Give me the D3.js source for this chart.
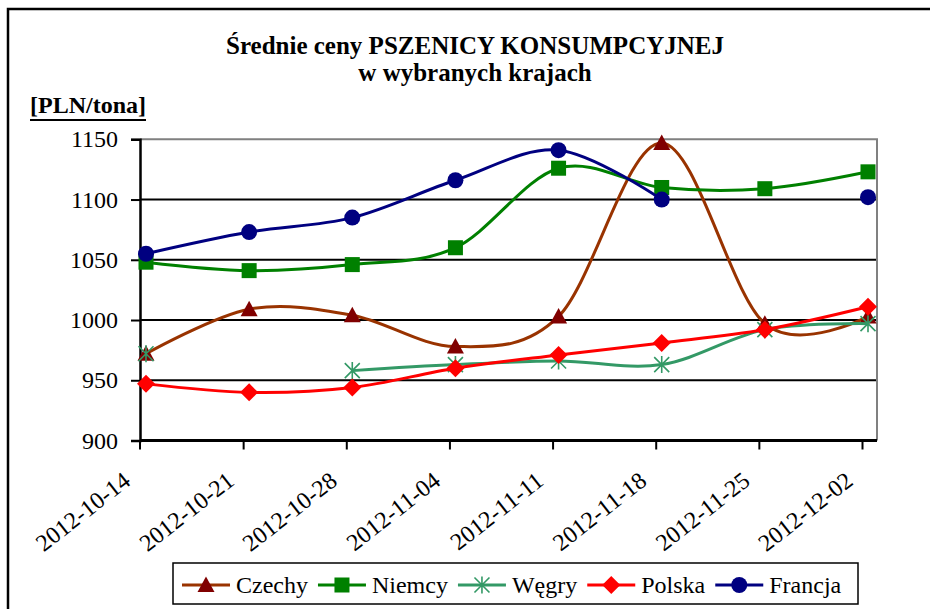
<!DOCTYPE html>
<html lang="pl">
<head>
<meta charset="UTF-8">
<title>Średnie ceny PSZENICY KONSUMPCYJNEJ</title>
<script src="https://cdn.jsdelivr.net/npm/d3@7"></script>
<style>
  body { margin: 0; background: #fff; }
  svg text { font-family: "Liberation Serif", "Times New Roman", serif; fill: #000; }
</style>
</head>
<body>
<script>
// data
var dates = ["2012-10-14", "2012-10-21", "2012-10-28", "2012-11-04",
             "2012-11-11", "2012-11-18", "2012-11-25", "2012-12-02"];
var czechy  = [972, 1009, 1004, 978, 1003, 1147, 997, 1003];
var niemcy  = [1048, 1041, 1046, 1060, 1126, 1110, 1109, 1123];
var wegry   = [972, null, 958, 963, 966, 963, 992, 997];
var polska  = [947, 940, 944, 960, 971, 981, 992, 1011];
var francja = [1055, 1073, 1085, 1116, 1141, 1100, null, 1102];
var yTicks = [900, 950, 1000, 1050, 1100, 1150];

var series = [
  { name: "Czechy",  values: czechy,  line: "#993300", mark: "#800000", shape: "triangle" },
  { name: "Niemcy",  values: niemcy,  line: "#008000", mark: "#008000", shape: "square" },
  { name: "Węgry",   values: wegry,   line: "#339966", mark: "#339966", shape: "star" },
  { name: "Polska",  values: polska,  line: "#FF0000", mark: "#FF0000", shape: "diamond" },
  { name: "Francja", values: francja, line: "#000080", mark: "#000080", shape: "circle" }
];

var w = 930, h = 609;
var pLeft = 140, pRight = 877, pTop = 139.3, pBottom = 440.5;
var serif = "'Liberation Serif', 'Times New Roman', serif";

var svg = d3.select("body").append("svg")
  .attr("width", w).attr("height", h);

// outer frame (runs off the picture on right and bottom)
svg.append("rect")
  .attr("x", 8).attr("y", 9).attr("width", 1000).attr("height", 700)
  .attr("fill", "none").attr("stroke", "#000").attr("stroke-width", 2.5);

// title
svg.append("text").attr("x", 475).attr("y", 54)
  .attr("text-anchor", "middle").style("font-size", "25px").style("font-weight", "bold")
  .text("Średnie ceny PSZENICY KONSUMPCYJNEJ");
svg.append("text").attr("x", 475).attr("y", 81)
  .attr("text-anchor", "middle").style("font-size", "25px").style("font-weight", "bold")
  .text("w wybranych krajach");

var unit = svg.append("text").attr("x", 30).attr("y", 113)
  .style("font-size", "24px").style("font-weight", "bold")
  .text("[PLN/tona]");
var uw = unit.node().getComputedTextLength();
svg.append("line").attr("x1", 30).attr("x2", 30 + uw).attr("y1", 120).attr("y2", 120)
  .attr("stroke", "#000").attr("stroke-width", 2);

// scales
var x = d3.scalePoint().domain(dates).range([146, 868]);
var y = d3.scaleLinear().domain([900, 1150]).range([pBottom, pTop]);

// gridlines
svg.append("g").selectAll("line")
  .data(yTicks.filter(function(d) { return d > 900 && d < 1150; }))
  .enter().append("line")
  .attr("x1", pLeft).attr("x2", pRight)
  .attr("y1", function(d) { return y(d); }).attr("y2", function(d) { return y(d); })
  .attr("stroke", "#000").attr("stroke-width", 2);

// plot border top/right in grey
svg.append("path")
  .attr("d", "M" + pLeft + "," + y(1150) + "H" + pRight + "V" + pBottom)
  .attr("fill", "none").attr("stroke", "#808080").attr("stroke-width", 2);

// y axis
var yAxis = svg.append("g").attr("transform", "translate(" + pLeft + ",0)")
  .call(d3.axisLeft(y).tickValues(yTicks).tickSize(9).tickPadding(13).tickFormat(d3.format("d")));
yAxis.attr("font-family", null);
yAxis.select(".domain").attr("stroke", "#000").attr("stroke-width", 2.5);
yAxis.selectAll(".tick line").attr("stroke", "#000").attr("stroke-width", 2);
yAxis.selectAll("text").style("font-size", "24px").attr("fill", "#000")
  .style("font-family", serif);

// x axis (ticks sit a little left of the points, as in the original)
var xAxis = svg.append("g").attr("transform", "translate(-6," + pBottom + ")")
  .call(d3.axisBottom(x).tickSize(9).tickSizeOuter(0));
xAxis.attr("font-family", null);
xAxis.select(".domain").attr("d", "M" + (pLeft + 6) + ",0H" + (pRight + 6))
  .attr("stroke", "#000").attr("stroke-width", 3);
xAxis.selectAll(".tick line").attr("stroke", "#000").attr("stroke-width", 2);
xAxis.selectAll("text")
  .style("font-size", "24px").attr("fill", "#000")
  .style("font-family", serif)
  .attr("text-anchor", "end").attr("dy", 0).attr("y", 0)
  .attr("transform", "translate(-8,43) rotate(-38)");
// first tick should sit on the y axis
xAxis.selectAll(".tick").filter(function(d, i) { return i === 0; })
  .attr("transform", "translate(" + (pLeft + 6) + ",0)");

// markers
function marker(sel, shape, col) {
  if (shape === "circle") {
    sel.append("circle").attr("r", 8).attr("fill", col);
  } else if (shape === "square") {
    sel.append("rect").attr("x", -7.5).attr("y", -7.5).attr("width", 15).attr("height", 15).attr("fill", col);
  } else if (shape === "triangle") {
    sel.append("path").attr("d", "M0,-8.5L8.5,7L-8.5,7Z").attr("fill", col);
  } else if (shape === "diamond") {
    sel.append("path").attr("d", "M0,-9L9,0L0,9L-9,0Z").attr("fill", col);
  } else if (shape === "star") {
    sel.append("path").attr("d", "M0,-8.5V8.5M-7.5,-7.5L7.5,7.5M-7.5,7.5L7.5,-7.5")
      .attr("stroke", col).attr("stroke-width", 1.6).attr("fill", "none");
  }
}

var line = d3.line()
  .defined(function(d) { return d.v != null; })
  .x(function(d) { return x(d.date); })
  .y(function(d) { return y(d.v); })
  .curve(d3.curveCatmullRom.alpha(0));

series.forEach(function(s) {
  var pts = dates.map(function(d, i) { return { date: d, v: s.values[i] }; });
  svg.append("path").datum(pts)
    .attr("d", line)
    .attr("fill", "none").attr("stroke", s.line).attr("stroke-width", 3);
  svg.append("g").selectAll("g")
    .data(pts.filter(function(p) { return p.v != null; }))
    .enter().append("g")
    .attr("transform", function(p) { return "translate(" + x(p.date) + "," + y(p.v) + ")"; })
    .each(function() { marker(d3.select(this), s.shape, s.mark); });
});

// legend
var lg = svg.append("g");
lg.append("rect").attr("x", 173).attr("y", 563).attr("width", 685).attr("height", 41)
  .attr("fill", "#fff").attr("stroke", "#000").attr("stroke-width", 1.5);
var lx = 182, ly = 585;
series.forEach(function(s) {
  lg.append("line").attr("x1", lx).attr("x2", lx + 48).attr("y1", ly).attr("y2", ly)
    .attr("stroke", s.line).attr("stroke-width", 3);
  marker(lg.append("g").attr("transform", "translate(" + (lx + 24) + "," + ly + ")"), s.shape, s.mark);
  var t = lg.append("text").attr("x", lx + 54).attr("y", ly + 8)
    .style("font-size", "24px").text(s.name);
  lx = lx + 54 + t.node().getComputedTextLength() + 10;
});
</script>
</body>
</html>
